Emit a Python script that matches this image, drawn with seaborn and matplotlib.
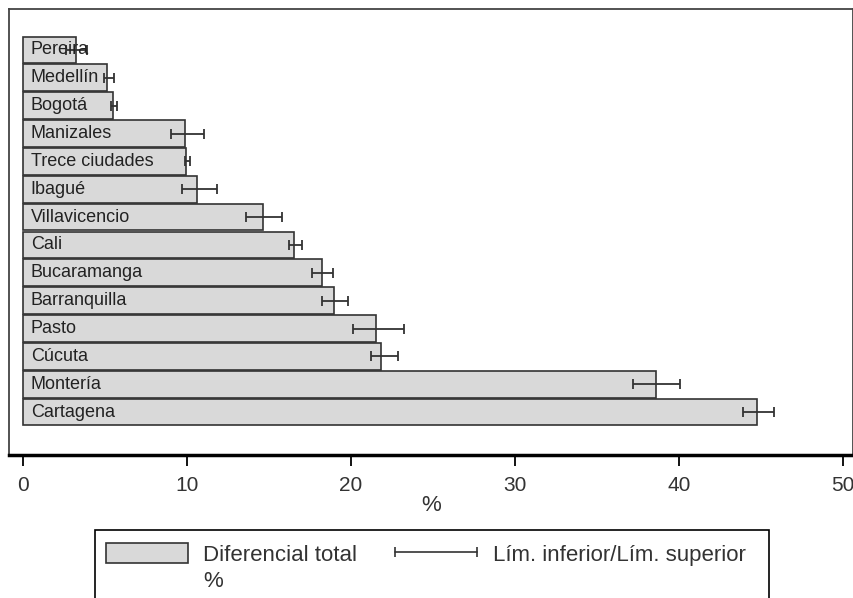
import numpy as np
import matplotlib
matplotlib.use("Agg")
import matplotlib.pyplot as plt
import seaborn as sns
from matplotlib.patches import Patch, Rectangle
from matplotlib.lines import Line2D
from matplotlib.legend_handler import HandlerLine2D

# datos
ciudades = ["Pereira", "Medellín", "Bogotá", "Manizales", "Trece ciudades", "Ibagué",
            "Villavicencio", "Cali", "Bucaramanga", "Barranquilla", "Pasto", "Cúcuta",
            "Montería", "Cartagena"]
diferencial = [3.2, 5.1, 5.45, 9.85, 9.95, 10.6, 14.6, 16.5, 18.2, 18.95, 21.5, 21.85, 38.6, 44.8]
lim_inf = [2.6, 4.9, 5.35, 9.0, 9.85, 9.7, 13.6, 16.2, 17.6, 18.2, 20.1, 21.2, 37.2, 43.9]
lim_sup = [3.9, 5.5, 5.7, 11.0, 10.15, 11.8, 15.8, 17.0, 18.9, 19.8, 23.2, 22.85, 40.1, 45.8]
ticks_x = [0, 10, 20, 30, 40, 50]

sns.set_style("white")
plt.rcParams['font.family'] = ['Liberation Sans', 'DejaVu Sans']

gris = '#d9d9d9'
oscuro = '#333333'

fig = plt.figure(figsize=(8.54, 5.98), dpi=100)
ax = fig.add_axes([9 / 854, 143 / 598, 844 / 854, 446 / 598])

sns.barplot(x=diferencial, y=ciudades, orient='h', color=gris, edgecolor=oscuro,
            linewidth=1.2, width=0.96, saturation=1, errorbar=None, ax=ax)

pos = np.arange(len(ciudades))
val = np.array(diferencial)
err = [val - np.array(lim_inf), np.array(lim_sup) - val]
ax.errorbar(val, pos, xerr=err, fmt='none', ecolor=oscuro, elinewidth=1.3,
            capsize=3.6, capthick=1.3)

for i, c in enumerate(ciudades):
    ax.text(0.45, i, c, va='center', ha='left', fontsize=13, color='#222222')

ax.set_xlim(-0.885, 50.64)
ax.set_ylim(14.54, -1.47)
ax.set_xticks(ticks_x)
ax.set_yticks([])
ax.set_ylabel('')
ax.set_xlabel('%', fontsize=16, color=oscuro, labelpad=0)
ax.tick_params(axis='x', direction='out', length=8, width=1.3, color='black',
               labelsize=15, labelcolor=oscuro, pad=7, bottom=True)

for s in ['left', 'top', 'right']:
    ax.spines[s].set_color('#444444')
    ax.spines[s].set_linewidth(1.3)
ax.spines['bottom'].set_color('black')
ax.spines['bottom'].set_linewidth(2.5)

h_bar = Patch(facecolor=gris, edgecolor=oscuro, linewidth=1.2)
h_blank = Patch(facecolor='none', edgecolor='none')
h_err = Line2D([], [], color=oscuro, lw=1.2, marker='|', markersize=7, markeredgewidth=1.2)

leg = ax.legend([h_bar, h_blank, h_err],
                ['Diferencial total', '%', 'Lím. inferior/Lím. superior'],
                ncol=2, loc='upper left', bbox_to_anchor=(95 / 854, 1 - 532 / 598),
                bbox_transform=fig.transFigure, borderaxespad=0, borderpad=0.5,
                frameon=False, fontsize=16, handlelength=3.7, handleheight=1.0,
                handletextpad=0.68, columnspacing=1.7, labelspacing=0.15,
                handler_map={h_err: HandlerLine2D(marker_pad=0, numpoints=2)})
for t in leg.get_texts():
    t.set_color(oscuro)

# marco de la leyenda, cortado por el borde inferior
fig.add_artist(Rectangle((95 / 854, -0.05), (769 - 95) / 854, 68 / 598 + 0.05,
                         transform=fig.transFigure, fill=False, edgecolor='black', lw=1.2))

plt.savefig('out.png', dpi=100)
